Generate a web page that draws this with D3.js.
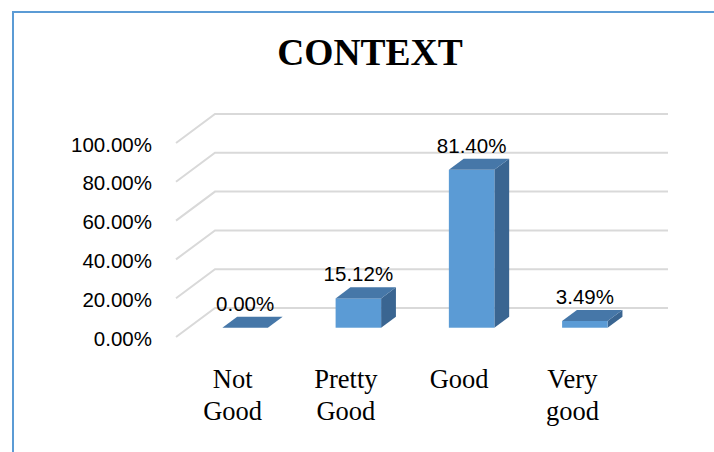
<!DOCTYPE html>
<html lang="en">
<head>
  <meta charset="UTF-8" />
  <title>CONTEXT</title>
  <script src="https://d3js.org/d3.v7.min.js"></script>
  <style>
    body { margin: 0; background: #fff; }
    .grid { fill: none; stroke: #d9d9d9; stroke-width: 2px; }
    .tick text, .val { font-family: "Liberation Sans", Arial, sans-serif; font-size: 20.5px; fill: #000; }
    .cat { font-family: "Liberation Serif", "Times New Roman", serif; font-size: 26.5px; fill: #000; }
    .title { font-family: "Liberation Serif", "Times New Roman", serif; font-size: 37.5px; font-weight: bold; fill: #000; }
  </style>
</head>
<body>
<svg width="714" height="452"></svg>

<script>
// chart data
const categories = [["Not", "Good"], ["Pretty", "Good"], ["Good"], ["Very", "good"]];
const values = [0.0, 0.1512, 0.8140, 0.0349];
const yTicks = [0, 0.2, 0.4, 0.6, 0.8, 1.0];

const svg = d3.select("svg");
const fmt = d3.format(".2%");

// 3d depth vector of the plot box, and where the bars sit inside it
const depth = { x: 39, y: -29 };
const barFront = 0.32, barDepth = 0.38, barWidth = 45.5;

const x = d3.scaleBand()
  .domain(categories.map((c, i) => i))
  .range([176, 629]);
const y = d3.scaleLinear().domain([0, 1]).range([337, 143]);

// frame
svg.append("path")
  .attr("d", "M13,452 L13,12 L714,12")
  .attr("fill", "none")
  .attr("stroke", "#5b9bd5")
  .attr("stroke-width", 2);

svg.append("text")
  .attr("class", "title")
  .attr("x", 370).attr("y", 64.5)
  .attr("text-anchor", "middle")
  .text("CONTEXT");

// gridlines: side wall diagonal + back wall horizontal
svg.append("g").selectAll("path")
  .data(yTicks)
  .enter().append("path")
  .attr("class", "grid")
  .attr("d", t => {
    const x0 = x.range()[0], y0 = y(t);
    return `M${x0},${y0} L${x0 + depth.x},${y0 + depth.y} L${x.range()[1] + depth.x},${y0 + depth.y}`;
  });

// y axis labels
const axis = svg.append("g")
  .attr("transform", `translate(${x.range()[0]},1.5)`)
  .call(d3.axisLeft(y).tickValues(yTicks).tickFormat(fmt).tickSize(0).tickPadding(24));
axis.select(".domain").remove();

// bars
const ox = depth.x * barFront, oy = depth.y * barFront;
const dx = depth.x * barDepth, dy = depth.y * barDepth;

const bars = svg.append("g").selectAll("g")
  .data(values)
  .enter().append("g");

bars.each(function (v, i) {
  const g = d3.select(this);
  const x0 = x(i) + x.bandwidth() / 2 - barWidth / 2 + ox;
  const x1 = x0 + barWidth;
  const yb = y(0) + oy;
  const yt = y(v) + oy;
  // side
  g.append("path")
    .attr("d", `M${x1},${yb} L${x1 + dx},${yb + dy} L${x1 + dx},${yt + dy} L${x1},${yt} Z`)
    .attr("fill", "#3a6591");
  // front
  if (yb - yt > 0.5) {
    g.append("rect")
      .attr("x", x0).attr("y", yt)
      .attr("width", barWidth).attr("height", yb - yt)
      .attr("fill", "#5b9bd5");
  }
  // top
  g.append("path")
    .attr("d", `M${x0},${yt} L${x1},${yt} L${x1 + dx},${yt + dy} L${x0 + dx},${yt + dy} Z`)
    .attr("fill", "#4677a8");
  // value label
  g.append("text")
    .attr("class", "val")
    .attr("x", x0 + barWidth / 2)
    .attr("y", yt + dy - 6)
    .attr("text-anchor", "middle")
    .text(fmt(v));
});

// category labels
svg.append("g").selectAll("text")
  .data(categories)
  .enter().append("text")
  .attr("class", "cat")
  .attr("text-anchor", "middle")
  .attr("x", (d, i) => x(i) + x.bandwidth() / 2)
  .attr("y", 388)
  .each(function (lines) {
    d3.select(this).selectAll("tspan")
      .data(lines)
      .enter().append("tspan")
      .attr("x", d3.select(this).attr("x"))
      .attr("dy", (l, j) => j === 0 ? 0 : 32)
      .text(l => l);
  });
</script>
</body>
</html>
